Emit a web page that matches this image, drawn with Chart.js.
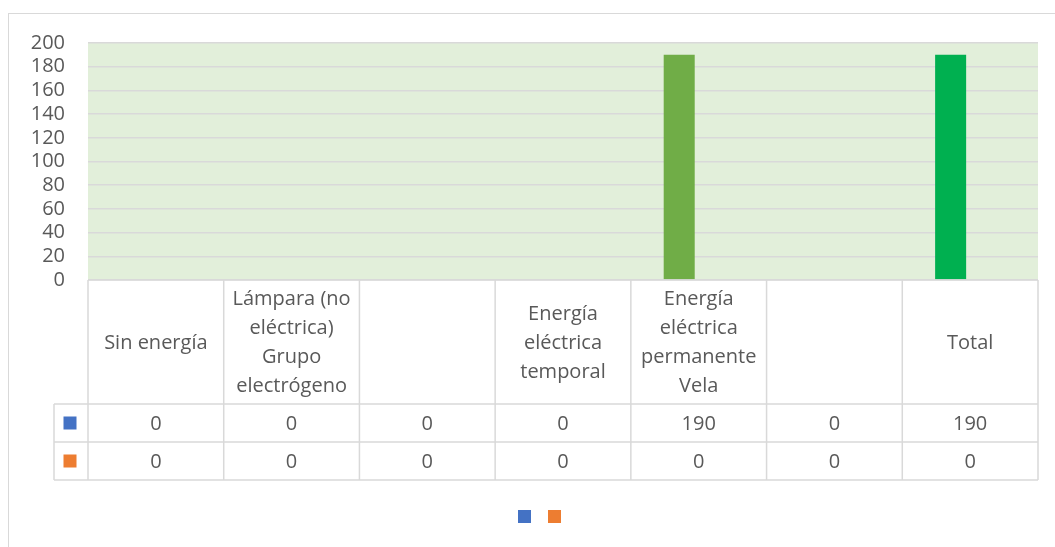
<!DOCTYPE html>
<html><head><meta charset="utf-8">
<script src="https://cdn.jsdelivr.net/npm/chart.js@4.4.0/dist/chart.umd.min.js"></script>
<style>html,body{margin:0;padding:0;background:#fff;overflow:hidden}#wrap{width:1055px;height:547px;position:relative}</style>
</head><body><div id="wrap"><canvas id="c" width="1055" height="547"></canvas></div>
<script>
// ---- data ----
const categories = [
  "Sin energía",
  ["Lámpara (no", "eléctrica)", "Grupo", "electrógeno"],
  "",
  ["Energía", "eléctrica", "temporal"],
  ["Energía", "eléctrica", "permanente", "Vela"],
  "",
  "Total"
];
const seriesA = [0, 0, 0, 0, 190, 0, 190];
const seriesB = [0, 0, 0, 0, 0, 0, 0];
const seriesNames = ["", ""];
const yMin = 0, yMax = 200, yStep = 20;

// ---- styles ----
const FONT_FAMILY = '"Open Sans", "Noto Sans", sans-serif';
const TEXT = '#595959';
const LINE = '#D9D9D9';
const legendColors = ['#4472C4', '#ED7D31'];
const barColorsA = ['#4472C4', '#4472C4', '#4472C4', '#4472C4', '#70AD47', '#4472C4', '#00B050'];

const tablePlugin = {
  id: 'dataTable',
  beforeDraw(chart) {
    const ctx = chart.ctx, a = chart.chartArea;
    ctx.save();
    ctx.fillStyle = '#fff';
    ctx.fillRect(0, 0, chart.width, chart.height);
    ctx.strokeStyle = LINE; ctx.lineWidth = 1;
    ctx.strokeRect(8.5, 13.5, chart.width + 20, chart.height + 20);
    ctx.fillStyle = '#E2EFDA';
    ctx.fillRect(a.left, a.top, a.right - a.left, a.bottom - a.top);
    ctx.restore();
  },
  afterDraw(chart) {
    const ctx = chart.ctx, a = chart.chartArea, xs = chart.scales.x;
    const n = categories.length;
    const colW = (a.right - a.left) / n;
    const top = a.bottom;
    const headH = 124, rowH = 38;
    const r1 = top + headH, r2 = r1 + rowH, r3 = r2 + rowH;
    const keyLeft = a.left - 34;
    ctx.save();
    ctx.strokeStyle = LINE; ctx.lineWidth = 1.5;
    ctx.beginPath();
    ctx.moveTo(a.left, top); ctx.lineTo(a.right, top);
    [r1, r2, r3].forEach(y => { ctx.moveTo(keyLeft, y); ctx.lineTo(a.right, y); });
    for (let i = 0; i <= n; i++) {
      const x = a.left + i * colW;
      ctx.moveTo(x, top); ctx.lineTo(x, r3);
    }
    ctx.moveTo(keyLeft, r1); ctx.lineTo(keyLeft, r3);
    ctx.stroke();

    ctx.fillStyle = TEXT;
    ctx.font = '20px ' + FONT_FAMILY;
    ctx.textAlign = 'center';
    ctx.textBaseline = 'middle';
    const lh = 29;
    const headMid = top + headH / 2 + 1;
    categories.forEach((lab, i) => {
      const cx = xs.getPixelForValue(i);
      const lines = Array.isArray(lab) ? lab : [lab];
      lines.forEach((t, k) => {
        ctx.fillText(t, cx, headMid + (k - (lines.length - 1) / 2) * lh);
      });
      ctx.fillText(String(seriesA[i]), cx, r1 + rowH / 2 + 1);
      ctx.fillText(String(seriesB[i]), cx, r2 + rowH / 2 + 1);
    });
    // table keys
    const kx = (keyLeft + a.left) / 2;
    ctx.fillStyle = legendColors[0];
    ctx.fillRect(kx - 7.5, r1 + rowH / 2 - 6.5, 13, 13);
    ctx.fillStyle = legendColors[1];
    ctx.fillRect(kx - 7.5, r2 + rowH / 2 - 6.5, 13, 13);
    // legend (keys only, series have no names), centred on the chart frame
    const legendY = 510, gap = 30;
    const frameCenter = (8 + chart.width + 16) / 2;
    const startX = frameCenter - (gap * (legendColors.length - 1) + 13) / 2;
    legendColors.forEach((c, i) => {
      ctx.fillStyle = c;
      ctx.fillRect(Math.round(startX + i * gap), legendY, 13, 13);
    });
    ctx.restore();
  }
};

new Chart(document.getElementById('c'), {
  type: 'bar',
  data: {
    labels: categories,
    datasets: [
      { label: seriesNames[0], data: seriesA, backgroundColor: barColorsA, borderWidth: 0 },
      { label: seriesNames[1], data: seriesB, backgroundColor: legendColors[1], borderWidth: 0 }
    ]
  },
  options: {
    responsive: false,
    animation: false,
    devicePixelRatio: 1,
    categoryPercentage: 0.575,
    barPercentage: 0.795,
    layout: { padding: { left: 0, right: 17, top: 43, bottom: 67 } },
    plugins: {
      tooltip: { enabled: false },
      legend: { display: false }
    },
    scales: {
      x: {
        ticks: { display: false },
        grid: { display: false },
        border: { display: false },
        afterFit: (s) => { s.height = 200; }
      },
      y: {
        min: yMin, max: yMax,
        ticks: { stepSize: yStep, autoSkip: false, color: TEXT, padding: 23, font: { size: 20, family: FONT_FAMILY } },
        grid: { color: LINE, lineWidth: 1.5, drawTicks: false },
        border: { display: false },
        afterFit: (s) => { s.width = 88; }
      }
    }
  },
  plugins: [tablePlugin]
});
</script></body></html>
